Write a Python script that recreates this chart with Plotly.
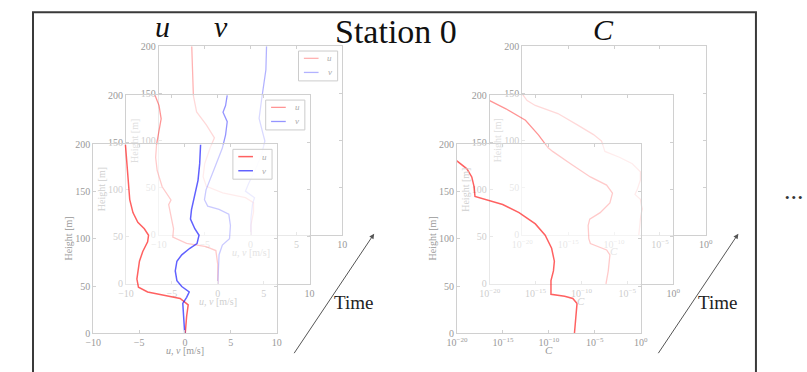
import plotly.graph_objects as go

# ---------------- data ----------------
# wind profiles, time step 0 (front), 1 (middle), 2 (back)
h_u0 = [200, 179.4, 158.8, 141.6, 127.8, 117.5, 110.7, 103.8, 96.9, 86.6, 76.3, 66, 57.4, 48.8, 43.7, 40.2, 36.8, 30, 18, 0]
u0 = [-6.49, -6.34, -6.2, -6.02, -5.67, -5.14, -4.43, -3.97, -4.07, -4.6, -4.96, -5.07, -5.24, -5.07, -4.07, -2.3, -0.53, 0.35, 0.18, 0.03]
h_v0 = [200, 179.4, 162, 145, 131, 121, 110.7, 103.8, 95, 90, 83, 76.3, 66, 55.7, 49.5, 43.7, 38, 31.6, 18, 0]
v0 = [1.7, 1.6, 1.42, 1.07, 0.71, 0.6, 1.07, 1.53, 1.31, 0.53, -0.35, -0.88, -1.06, -0.88, -0.35, 0.46, 0.18, -0.24, -0.17, -0.03]

h_u1 = [200, 189, 175, 161.5, 147.8, 134, 120, 103, 92.8, 89, 84, 75.6, 58.4, 49.8, 43, 39.5, 35.4, 20.6, 0]
u1 = [-6.84, -6.4, -6.17, -6.4, -6.67, -6.77, -6.6, -6.06, -5.35, -5.1, -5.35, -5.18, -4.82, -4.9, -3.4, -1.28, -0.21, 0, 0]
h_v1 = [200, 189, 182, 172, 158, 144, 130.6, 113.4, 99.7, 89.3, 82.5, 79, 73.9, 61.9, 48, 41.2, 31, 0]
v1 = [1.03, 0.85, 0.57, 1.03, 0.85, 0.5, -0.04, -0.74, -1.28, -1.45, -1.1, 0.14, 1.2, 1.38, 1.28, 0.5, 0.14, 0]

h_u2 = [200, 175, 147.5, 130.4, 116.6, 102.9, 92.6, 75.5, 61.7, 51.5, 44.6, 39.5, 34.3, 24, 10.3, 0]
u2 = [-6.41, -6.34, -6.23, -5.88, -4.82, -3.94, -4.39, -5.0, -5.17, -4.82, -3.04, -0.56, 0.32, 0.32, 0.04, 0.04]
h_v2 = [200, 175, 144, 123.5, 110, 99.5, 85.7, 68.5, 54.8, 46.4, 39.5, 32.6, 17.2, 0]
v2 = [1.74, 1.67, 1.21, 0.93, 1.28, 1.56, 1.21, 0.5, -0.2, -0.56, 0.43, 0.21, 0.04, 0.04]

# concentration profiles (log10 C)
h_c0 = [190, 182, 174.2, 165.6, 155.3, 145, 141.6, 136.4, 127.8, 115.8, 103.8, 90, 76.3, 66, 55.7, 41.2, 39.2, 36.8, 31.6, 17.9, 0]
log_c0 = [-21, -20, -18.93, -18.4, -18.15, -18.05, -16.8, -15.03, -13.25, -11.47, -10.4, -9.7, -9.4, -9.5, -9.77, -9.77, -8.28, -7.39, -6.93, -7.03, -7.21]
h_c1 = [194.2, 185.6, 173.5, 158, 144.3, 140.2, 127.1, 113.4, 104.8, 96.2, 85.9, 75.6, 68.7, 61.9, 48.1, 42.9, 36.1, 30.9, 13.7, 0]
log_c1 = [-20, -18.23, -16.1, -14.69, -13.63, -13.1, -11.15, -9.03, -7.26, -6.62, -6.9, -7.96, -9.1, -9.27, -9.2, -9.03, -7.26, -6.9, -7.08, -7.33]
h_c2 = [149.2, 142.4, 137.2, 128.6, 116.6, 106.3, 99.5, 92.6, 88.5, 82.3, 75.5, 66.9, 58.3, 48, 42.9, 37.7, 27.4, 17.2, 0]
log_c2 = [-20, -19.47, -18.59, -16.12, -14.0, -12.24, -11.36, -11.18, -11.0, -9.42, -8.01, -7.13, -7.13, -7.48, -7.72, -7.13, -6.95, -7.13, -7.3]

uv_ticks = [-10, -5, 0, 5, 10]
h_ticks = [0, 50, 100, 150, 200]
c_tick_exp = [-20, -15, -10, -5, 0]

# ---------------- layout geometry ----------------
W, H = 807, 372
PW, PH = 187.5, 194.0
LEFT_X = {"back": 152.0, "mid": 118.5, "front": 85.0}
RIGHT_X = {"back": 523.3, "mid": 490.0, "front": 456.7}
TOP_Y = {"back": 42.3, "mid": 92.7, "front": 143.3}
ALPHA = {"back": 0.30, "mid": 0.42, "front": 0.62}
LW = {"back": 1.3, "mid": 1.3, "front": 1.5}

def px(x):
    return x / W

def py(y):
    return 1 - y / H

FONT = "Liberation Serif"
TICKFONT = dict(family=FONT, size=10, color="#999999")

fig = go.Figure()
layout = {}

# axis numbering: back panels first so front ones are drawn on top
order = [("left", "back"), ("right", "back"), ("left", "mid"), ("right", "mid"),
         ("left", "front"), ("right", "front")]
axid = {}
for n, (grp, lvl) in enumerate(order, start=1):
    axid[(grp, lvl)] = n
    left = LEFT_X[lvl] if grp == "left" else RIGHT_X[lvl]
    top = TOP_Y[lvl]
    xk = "xaxis" if n == 1 else f"xaxis{n}"
    yk = "yaxis" if n == 1 else f"yaxis{n}"
    xa = "x" if n == 1 else f"x{n}"
    ya = "y" if n == 1 else f"y{n}"
    common = dict(showline=True, linecolor="#d0d0d0", linewidth=1, mirror="ticks",
                  ticks="inside", ticklen=3, tickcolor="#d0d0d0", showgrid=False,
                  zeroline=False, tickfont=TICKFONT)
    if grp == "left":
        xax = dict(domain=[px(left), px(left + PW)], anchor=ya, range=[-10, 10],
                   tickvals=uv_ticks, ticktext=[str(t).replace("-", "\u2212") for t in uv_ticks],
                   **common)
    else:
        xax = dict(domain=[px(left), px(left + PW)], anchor=ya, type="log",
                   range=[-20, 0], tickvals=[10.0 ** e for e in c_tick_exp],
                   ticktext=["10<sup>%s</sup>" % str(e).replace("-", "\u2212") for e in c_tick_exp],
                   **common)
    yax = dict(domain=[py(top + PH), py(top)], anchor=xa, range=[0, 200],
               tickvals=h_ticks, ticktext=[str(t) for t in h_ticks], **common)
    layout[xk] = xax
    layout[yk] = yax

def add_line(x, y, grp, lvl, rgb):
    n = axid[(grp, lvl)]
    xa = "x" if n == 1 else f"x{n}"
    ya = "y" if n == 1 else f"y{n}"
    fig.add_trace(go.Scatter(
        x=x, y=y, mode="lines", xaxis=xa, yaxis=ya, showlegend=False,
        line=dict(color="rgba(%d,%d,%d,%.2f)" % (rgb + (ALPHA[lvl],)), width=LW[lvl]),
        hoverinfo="skip"))

RED = (255, 0, 0)
BLUE = (0, 0, 255)
for lvl, (hu, u, hv, v) in {"back": (h_u2, u2, h_v2, v2),
                            "mid": (h_u1, u1, h_v1, v1),
                            "front": (h_u0, u0, h_v0, v0)}.items():
    add_line(u, hu, "left", lvl, RED)
    add_line(v, hv, "left", lvl, BLUE)

for lvl, (hc, lc) in {"back": (h_c2, log_c2), "mid": (h_c1, log_c1), "front": (h_c0, log_c0)}.items():
    add_line([10.0 ** e for e in lc], hc, "right", lvl, RED)

annotations = []
shapes = []

def text(t, x, y, size, color, angle=0, xanchor="center"):
    annotations.append(dict(text=t, x=px(x), y=py(y), xref="paper", yref="paper",
                            xanchor=xanchor, yanchor="middle", showarrow=False,
                            textangle=angle, font=dict(family=FONT, size=size, color=color)))

# axis titles (faded when they sit behind a front panel)
TITLE_COL = {"back": "#dedede", "mid": "#cfcfcf", "front": "#999999"}
XT_COL = {"back": "#e4e4e4", "mid": "#cfcfcf", "front": "#999999"}
for grp in ("left", "right"):
    for lvl in ("back", "mid", "front"):
        left = LEFT_X[lvl] if grp == "left" else RIGHT_X[lvl]
        top = TOP_Y[lvl]
        text("Height [m]", left - 25, top + PH / 2, 10, TITLE_COL[lvl], angle=-90)
        if grp == "left":
            text("<i>u</i>, <i>v</i> [m/s]", left + PW / 2, top + PH + 18, 10, XT_COL[lvl])
        else:
            text("<i>C</i>", left + PW / 2, top + PH + 17, 11, XT_COL[lvl])

# legends (left panels)
for lvl in ("back", "mid", "front"):
    right = LEFT_X[lvl] + PW - 4.8
    top = TOP_Y[lvl] + 5
    l0 = right - 40
    shapes.append(dict(type="rect", xref="paper", yref="paper", x0=px(l0), x1=px(right),
                       y0=py(top + 30.7), y1=py(top), line=dict(color="#cccccc", width=1),
                       fillcolor="rgba(255,255,255,0.85)", layer="above"))
    for k, (lab, rgb) in enumerate((("u", RED), ("v", BLUE))):
        yy = top + 7.5 + 14.5 * k
        shapes.append(dict(type="line", xref="paper", yref="paper", x0=px(l0 + 5.5),
                           x1=px(l0 + 20.5), y0=py(yy), y1=py(yy), layer="above",
                           line=dict(color="rgba(%d,%d,%d,%.2f)" % (rgb + (ALPHA[lvl],)),
                                     width=LW[lvl])))
        text("<i>%s</i>" % lab, l0 + 32, yy, 9, "#aaaaaa")

# headline texts
text("<i>u</i>", 155.5, 22, 30, "#111111")
text("<i>v</i>", 215.5, 22, 30, "#111111")
text("Station 0", 394.5, 27, 34, "#111111")
text("<i>C</i>", 606, 25, 30, "#111111")

# time arrows
for x0, y0, x1, y1, tx in ((291, 356, 372, 235, 351), (663, 356, 744, 235, 723)):
    annotations.append(dict(text="", x=px(x1), y=py(y1), ax=x0 - x1, ay=y0 - y1,
                            xref="paper", yref="paper", showarrow=True, arrowhead=2,
                            arrowsize=1, arrowwidth=1, arrowcolor="#555555"))
    text("Time", tx, 306, 19, "#222222")

text("...", 789, 191, 26, "#333333", xanchor="left")

# outer frame
shapes.append(dict(type="rect", xref="paper", yref="paper", x0=px(23.5), x1=px(762),
                   y0=-0.1, y1=py(7.5), line=dict(color="#3a3a3a", width=2), layer="below"))

fig.update_layout(width=W, height=H, margin=dict(l=0, r=0, t=0, b=0),
                  paper_bgcolor="white", plot_bgcolor="rgba(255,255,255,0.5)",
                  showlegend=False, annotations=annotations, shapes=shapes, **layout)

fig.write_html("out.html")
